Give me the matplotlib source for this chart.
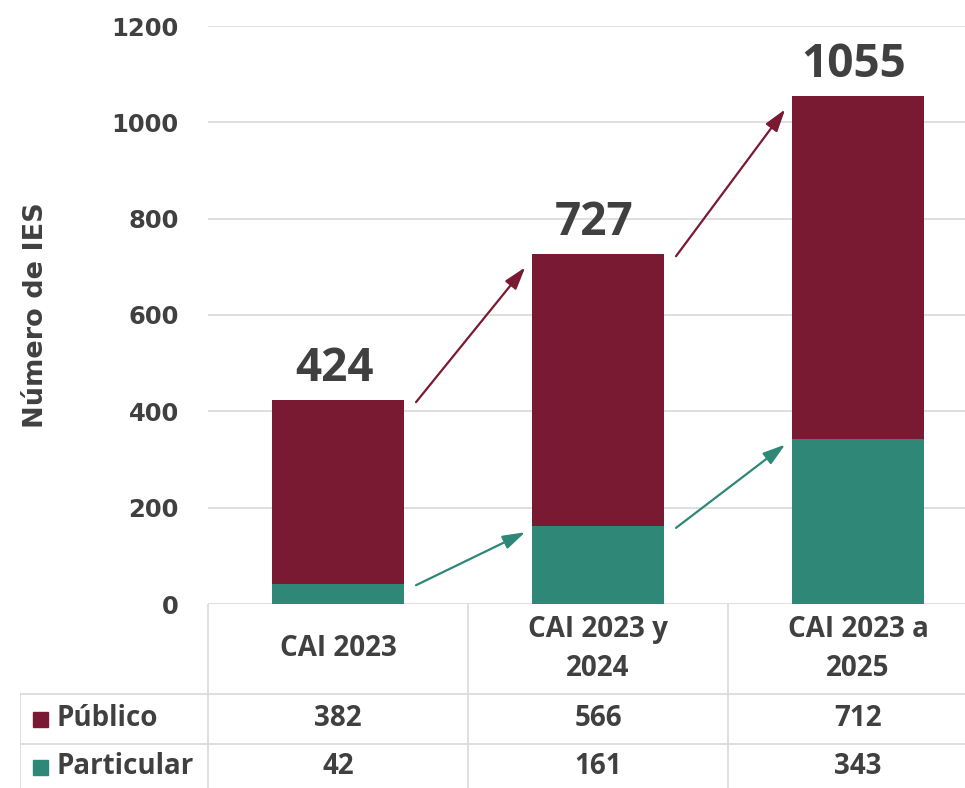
import matplotlib.pyplot as plt
from matplotlib.patches import Rectangle

# data
categories = ["CAI 2023", "CAI 2023 y\n2024", "CAI 2023 a\n2025"]
publico = [382, 566, 712]
particular = [42, 161, 343]
series_names = ["Público", "Particular"]
y_ticks = [0, 200, 400, 600, 800, 1000, 1200]

maroon = "#7A1A32"
teal = "#2E8777"
text_col = "#404040"
grid_col = "#D9D9D9"

plt.rcParams['font.family'] = ['Open Sans', 'DejaVu Sans']
plt.rcParams['font.weight'] = 'bold'

W, H = 965, 788
fig = plt.figure(figsize=(W / 100, H / 100), dpi=100)

# main plot area (pixel layout of the reference)
x_left, x_right = 208, 988
y_top, y_zero = 26, 604
ax = fig.add_axes([x_left / W, (H - y_zero) / H, (x_right - x_left) / W, (y_zero - y_top) / H])

x = list(range(len(categories)))
totals = [a + b for a, b in zip(publico, particular)]

ax.bar(x, particular, width=0.51, color=teal, zorder=3)
ax.bar(x, publico, width=0.51, bottom=particular, color=maroon, zorder=3)

for xi, t in zip(x, totals):
    ax.text(xi - 0.015, t + 16, str(t), ha='center', va='bottom', fontsize=33,
            fontweight='bold', color=text_col)

# growth arrows between bars
arrow_kw = dict(arrowstyle='-|>,head_length=0.8,head_width=0.25', lw=1.6,
                mutation_scale=17, shrinkA=0, shrinkB=0)
for i in range(len(x) - 1):
    ax.annotate("", xy=(x[i] + 0.72, totals[i + 1] - 28), xytext=(x[i] + 0.3, totals[i] - 5),
                arrowprops=dict(color=maroon, **arrow_kw), zorder=4)
    ax.annotate("", xy=(x[i] + 0.72, particular[i + 1] - 12), xytext=(x[i] + 0.3, particular[i] - 3),
                arrowprops=dict(color=teal, **arrow_kw), zorder=4)

ax.set_xlim(-0.5, 2.5)
ax.set_ylim(0, 1200)
ax.set_yticks(y_ticks)
ax.set_yticklabels([str(v) for v in y_ticks], fontsize=17.5, color=text_col,
                   fontweight='bold', family='DejaVu Sans')
ax.set_xticks([])
ax.tick_params(axis='y', length=0, pad=21)
ax.yaxis.grid(True, color=grid_col, lw=1.2, zorder=0)
for s in ax.spines.values():
    s.set_visible(False)
ax.set_ylabel("Número de IES", fontsize=19.5, color=text_col, fontweight='bold',
              family='DejaVu Sans', labelpad=45)

# data table below the plot
table_left = 20
tax = fig.add_axes([table_left / W, 0, (x_right - table_left) / W, (H - y_zero) / H])
label_x0 = -0.5 - (x_left - table_left) / ((x_right - x_left) / 3)
tax.set_xlim(label_x0, 2.5)
tax.set_ylim(H - y_zero, 0)
tax.axis('off')

row1, row2 = 90, 140
line_kw = dict(color=grid_col, lw=1.2)
tax.plot([label_x0, 2.5], [row1, row1], **line_kw)
tax.plot([label_x0, 2.5], [row2, row2], **line_kw)
tax.plot([label_x0, label_x0], [row1, H - y_zero], **line_kw)
for b in [-0.5, 0.5, 1.5]:
    tax.plot([b, b], [0, H - y_zero], **line_kw)

for xi, c in zip(x, categories):
    tax.text(xi, 45, c, ha='center', va='center', fontsize=20, color=text_col,
             fontweight='bold', linespacing=1.45)

rows = [publico, particular]
colors = [maroon, teal]
row_centers = [115, 163]
px_unit = (x_right - x_left) / 3
for name, vals, col, yc in zip(series_names, rows, colors, row_centers):
    sq = Rectangle((label_x0 + 13 / px_unit, yc - 7.5), 15 / px_unit, 15, color=col)
    tax.add_patch(sq)
    tax.text(label_x0 + 37 / px_unit, yc, name, ha='left', va='center', fontsize=20,
             color=text_col, fontweight='bold')
    for xi, v in zip(x, vals):
        tax.text(xi, yc, str(v), ha='center', va='center', fontsize=20,
                 color=text_col, fontweight='bold')

fig.savefig("out.png", dpi=100)
